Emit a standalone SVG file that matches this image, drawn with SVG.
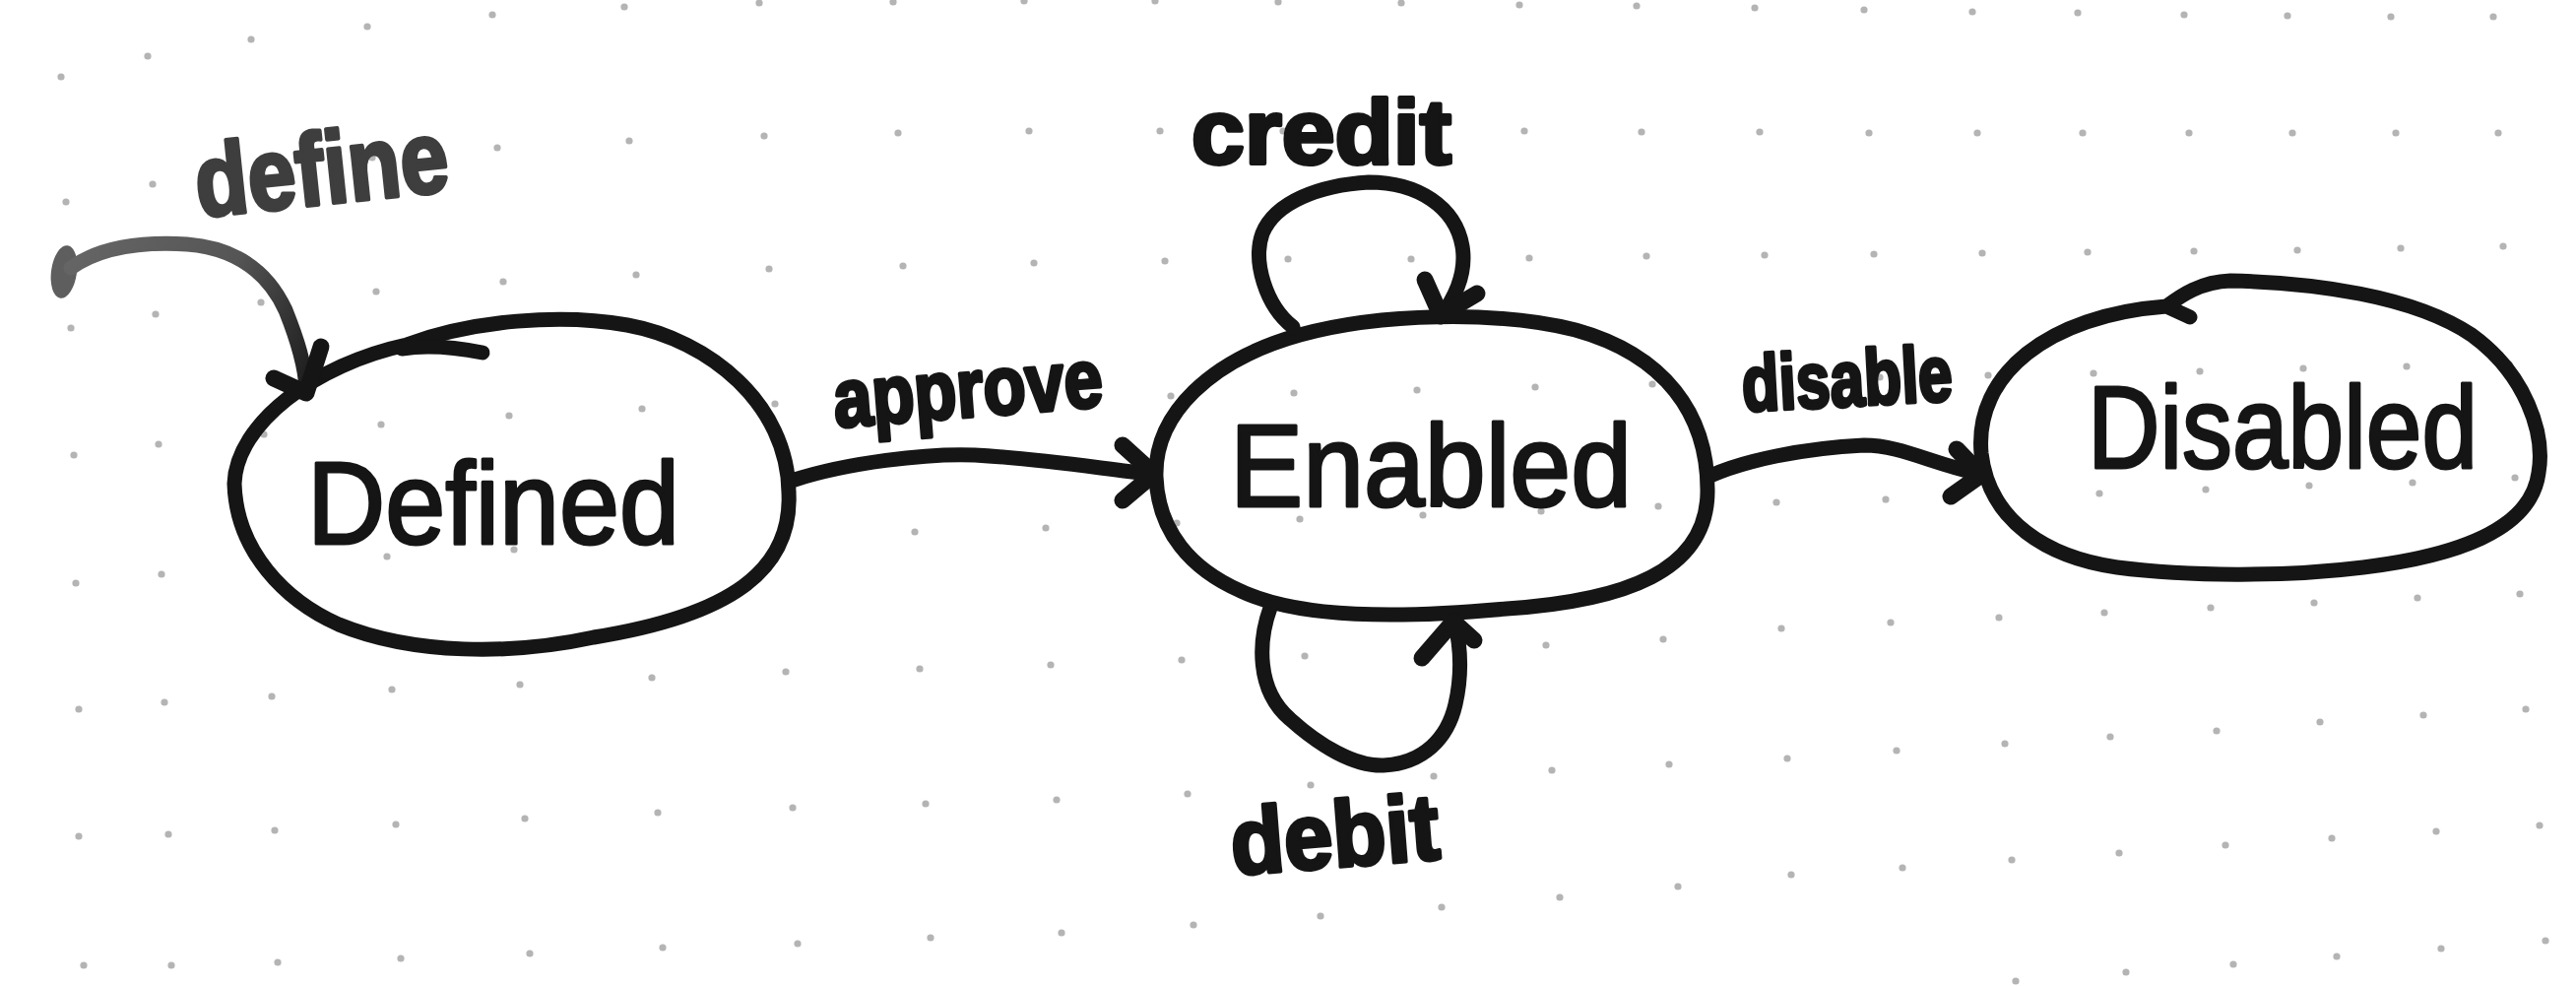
<svg xmlns="http://www.w3.org/2000/svg" xmlns:xlink="http://www.w3.org/1999/xlink" width="2616" height="1001" viewBox="0 0 2616 1001">
<style>
.ln{fill:none;stroke:#151515;stroke-width:15;stroke-linecap:round;stroke-linejoin:round}
.ah{fill:none;stroke:#151515;stroke-width:17;stroke-linecap:round;stroke-linejoin:round}
.node{font-family:"Liberation Sans",Arial,sans-serif;font-size:118px;fill:#151515;stroke:#151515;stroke-width:3;stroke-linejoin:round;text-anchor:middle}
.lbl{font-family:"Liberation Sans",Arial,sans-serif;font-weight:bold;fill:#151515;stroke:#151515;stroke-width:4;stroke-linejoin:round;text-anchor:middle}
</style>
<defs>
<circle id="p" r="3.6" fill="#b4b4b4"/>
<linearGradient id="ig" gradientUnits="userSpaceOnUse" x1="60" y1="260" x2="315" y2="400">
<stop offset="0" stop-color="#666"/><stop offset="0.55" stop-color="#555"/><stop offset="1" stop-color="#1a1a1a"/>
</linearGradient>
</defs>
<rect width="2616" height="1001" fill="#fff"/>
<g id="dots">
<use href="#p" x="62" y="78"/><use href="#p" x="150" y="57"/><use href="#p" x="255" y="40"/><use href="#p" x="373" y="27"/><use href="#p" x="500" y="15"/><use href="#p" x="634" y="7"/><use href="#p" x="771" y="3"/><use href="#p" x="907" y="2"/><use href="#p" x="1040" y="1"/><use href="#p" x="1173" y="1"/><use href="#p" x="1298" y="2"/><use href="#p" x="1423" y="3"/><use href="#p" x="1543" y="5"/><use href="#p" x="1662" y="6"/><use href="#p" x="1782" y="8"/><use href="#p" x="1893" y="10"/><use href="#p" x="2003" y="12"/><use href="#p" x="2110" y="13"/><use href="#p" x="2218" y="15"/><use href="#p" x="2323" y="16"/><use href="#p" x="2428" y="17"/><use href="#p" x="2532" y="17"/>
<use href="#p" x="67" y="205"/><use href="#p" x="155" y="187"/><use href="#p" x="260" y="172"/><use href="#p" x="378" y="160"/><use href="#p" x="505" y="150"/><use href="#p" x="639" y="143"/><use href="#p" x="776" y="138"/><use href="#p" x="912" y="135"/><use href="#p" x="1045" y="133"/><use href="#p" x="1178" y="133"/><use href="#p" x="1303" y="133"/><use href="#p" x="1428" y="133"/><use href="#p" x="1548" y="133"/><use href="#p" x="1667" y="134"/><use href="#p" x="1787" y="134"/><use href="#p" x="1898" y="135"/><use href="#p" x="2008" y="135"/><use href="#p" x="2115" y="135"/><use href="#p" x="2223" y="135"/><use href="#p" x="2328" y="135"/><use href="#p" x="2433" y="135"/><use href="#p" x="2537" y="135"/>
<use href="#p" x="72" y="333"/><use href="#p" x="158" y="319"/><use href="#p" x="265" y="307"/><use href="#p" x="382" y="296"/><use href="#p" x="511" y="286"/><use href="#p" x="646" y="279"/><use href="#p" x="781" y="273"/><use href="#p" x="917" y="270"/><use href="#p" x="1050" y="267"/><use href="#p" x="1183" y="265"/><use href="#p" x="1308" y="263"/><use href="#p" x="1433" y="263"/><use href="#p" x="1553" y="262"/><use href="#p" x="1672" y="260"/><use href="#p" x="1792" y="259"/><use href="#p" x="1903" y="258"/><use href="#p" x="2013" y="257"/><use href="#p" x="2120" y="256"/><use href="#p" x="2228" y="255"/><use href="#p" x="2333" y="254"/><use href="#p" x="2438" y="252"/><use href="#p" x="2542" y="250"/>
<use href="#p" x="75" y="462"/><use href="#p" x="161" y="451"/><use href="#p" x="268" y="441"/><use href="#p" x="387" y="431"/><use href="#p" x="517" y="422"/><use href="#p" x="652" y="415"/><use href="#p" x="787" y="410"/><use href="#p" x="923" y="407"/><use href="#p" x="1056" y="405"/><use href="#p" x="1189" y="402"/><use href="#p" x="1314" y="399"/><use href="#p" x="1439" y="396"/><use href="#p" x="1559" y="393"/><use href="#p" x="1678" y="390"/><use href="#p" x="1798" y="386"/><use href="#p" x="1909" y="383"/><use href="#p" x="2019" y="381"/><use href="#p" x="2126" y="379"/><use href="#p" x="2234" y="377"/><use href="#p" x="2339" y="374"/><use href="#p" x="2444" y="372"/><use href="#p" x="2548" y="370"/>
<use href="#p" x="77" y="592"/><use href="#p" x="164" y="583"/><use href="#p" x="270" y="574"/><use href="#p" x="393" y="565"/><use href="#p" x="522" y="558"/><use href="#p" x="657" y="551"/><use href="#p" x="793" y="545"/><use href="#p" x="929" y="540"/><use href="#p" x="1062" y="536"/><use href="#p" x="1195" y="531"/><use href="#p" x="1320" y="527"/><use href="#p" x="1445" y="523"/><use href="#p" x="1565" y="519"/><use href="#p" x="1684" y="514"/><use href="#p" x="1804" y="510"/><use href="#p" x="1915" y="507"/><use href="#p" x="2025" y="504"/><use href="#p" x="2132" y="501"/><use href="#p" x="2240" y="497"/><use href="#p" x="2345" y="493"/><use href="#p" x="2450" y="490"/><use href="#p" x="2554" y="485"/>
<use href="#p" x="80" y="720"/><use href="#p" x="167" y="713"/><use href="#p" x="276" y="707"/><use href="#p" x="398" y="700"/><use href="#p" x="528" y="695"/><use href="#p" x="662" y="688"/><use href="#p" x="798" y="682"/><use href="#p" x="934" y="679"/><use href="#p" x="1067" y="675"/><use href="#p" x="1200" y="670"/><use href="#p" x="1325" y="666"/><use href="#p" x="1450" y="660"/><use href="#p" x="1570" y="655"/><use href="#p" x="1689" y="649"/><use href="#p" x="1809" y="638"/><use href="#p" x="1920" y="632"/><use href="#p" x="2030" y="627"/><use href="#p" x="2137" y="622"/><use href="#p" x="2245" y="617"/><use href="#p" x="2350" y="612"/><use href="#p" x="2455" y="607"/><use href="#p" x="2559" y="603"/>
<use href="#p" x="80" y="849"/><use href="#p" x="171" y="847"/><use href="#p" x="279" y="843"/><use href="#p" x="402" y="837"/><use href="#p" x="533" y="831"/><use href="#p" x="668" y="825"/><use href="#p" x="805" y="820"/><use href="#p" x="940" y="816"/><use href="#p" x="1073" y="812"/><use href="#p" x="1206" y="806"/><use href="#p" x="1331" y="797"/><use href="#p" x="1456" y="788"/><use href="#p" x="1576" y="782"/><use href="#p" x="1695" y="776"/><use href="#p" x="1815" y="770"/><use href="#p" x="1926" y="762"/><use href="#p" x="2036" y="755"/><use href="#p" x="2143" y="748"/><use href="#p" x="2251" y="742"/><use href="#p" x="2356" y="733"/><use href="#p" x="2461" y="726"/><use href="#p" x="2565" y="720"/>
<use href="#p" x="85" y="980"/><use href="#p" x="174" y="980"/><use href="#p" x="282" y="977"/><use href="#p" x="407" y="973"/><use href="#p" x="538" y="968"/><use href="#p" x="673" y="962"/><use href="#p" x="810" y="958"/><use href="#p" x="945" y="952"/><use href="#p" x="1078" y="947"/><use href="#p" x="1212" y="939"/><use href="#p" x="1341" y="930"/><use href="#p" x="1464" y="921"/><use href="#p" x="1584" y="911"/><use href="#p" x="1704" y="900"/><use href="#p" x="1819" y="888"/><use href="#p" x="1932" y="881"/><use href="#p" x="2043" y="873"/><use href="#p" x="2152" y="866"/><use href="#p" x="2260" y="858"/><use href="#p" x="2368" y="851"/><use href="#p" x="2474" y="844"/><use href="#p" x="2579" y="838"/>
<use href="#p" x="2047" y="996"/><use href="#p" x="2159" y="987"/><use href="#p" x="2268" y="979"/><use href="#p" x="2373" y="971"/><use href="#p" x="2479" y="963"/><use href="#p" x="2585" y="955"/>
</g>
<g id="node-defined">
<path class="ln" d="M238,491 C240,430 320,370 413,350 C480,325 570,318 637,330 C720,345 800,410 801,500 C805,580 740,625 603,647 C520,665 420,665 344,634 C290,610 240,560 238,491 Z"/>
<path class="ln" d="M490,358 C460,352 432,350 408,354"/>
<text class="node" x="501" y="552" textLength="378" lengthAdjust="spacingAndGlyphs">Defined</text>
</g>
<g id="node-enabled">
<path class="ln" d="M1174,484 C1172,420 1230,365 1320,340 C1400,318 1520,315 1600,335 C1690,360 1735,420 1734,500 C1733,580 1650,610 1530,618 C1420,628 1320,628 1260,600 C1210,578 1176,540 1174,484 Z"/>
<text class="node" x="1453" y="514" font-size="106" textLength="408" lengthAdjust="spacingAndGlyphs">Enabled</text>
</g>
<g id="node-disabled">
<path class="ln" d="M2224,322 L2200,311 C2215,300 2235,286 2265,285 C2350,287 2450,300 2510,340 C2565,380 2585,440 2578,480 C2570,540 2490,565 2400,576 C2320,586 2220,585 2150,576 C2080,566 2020,530 2012,460 C2005,380 2080,320 2200,311"/>
<text class="node" x="2318" y="475" font-size="100" textLength="396" lengthAdjust="spacingAndGlyphs">Disabled</text>
</g>
<g id="connectors">
<g id="edge-define">
<ellipse cx="65" cy="276" rx="13" ry="27" fill="#5e5e5e" transform="rotate(8 65 276)"/>
<path d="M72,272 C100,252 140,245 190,248 C240,252 272,276 290,315 C302,345 310,370 311,395" fill="none" stroke="url(#ig)" stroke-width="15" stroke-linecap="round"/>
<path class="ah" d="M278,384 L311,399 L326,352"/>
<text class="lbl" x="330" y="207" font-size="104" style="fill:#3e3e3e;stroke:#3e3e3e" transform="rotate(-6 330 207)" textLength="258" lengthAdjust="spacingAndGlyphs">define</text>
</g>
<g id="edge-approve">
<path class="ln" d="M807,487 C860,470 940,460 990,462 C1060,466 1120,476 1168,481"/>
<path class="ah" d="M1140,452 L1172,481 L1140,508"/>
<text class="lbl" x="985" y="423" font-size="84" transform="rotate(-4.5 985 423)" textLength="274" lengthAdjust="spacingAndGlyphs">approve</text>
</g>
<g id="edge-credit">
<path class="ln" d="M1313,332 C1285,310 1272,265 1282,237 C1295,205 1340,188 1390,185 C1440,185 1478,210 1485,250 C1490,280 1475,305 1463,322"/>
<path class="ah" d="M1447,284 L1463,320 L1500,298"/>
<text class="lbl" x="1342" y="166" font-size="92" textLength="264" lengthAdjust="spacingAndGlyphs">credit</text>
</g>
<g id="edge-debit">
<path class="ln" d="M1290,617 C1278,650 1275,700 1310,730 C1340,757 1375,778 1405,777 C1445,775 1470,750 1478,715 C1486,680 1482,650 1477,630"/>
<path class="ah" d="M1444,668 L1476,631 L1497,650"/>
<text class="lbl" x="1358" y="880" font-size="95" transform="rotate(-4.5 1358 880)" textLength="212" lengthAdjust="spacingAndGlyphs">debit</text>
</g>
<g id="edge-disable">
<path class="ln" d="M1737,483 C1770,468 1830,455 1893,452 C1930,452 1960,470 2010,481"/>
<path class="ah" d="M1987,456 L2012,482 L1981,504"/>
<text class="lbl" x="1877" y="412" font-size="80" transform="rotate(-3 1877 412)" textLength="214" lengthAdjust="spacingAndGlyphs">disable</text>
</g>
</g>
</svg>
